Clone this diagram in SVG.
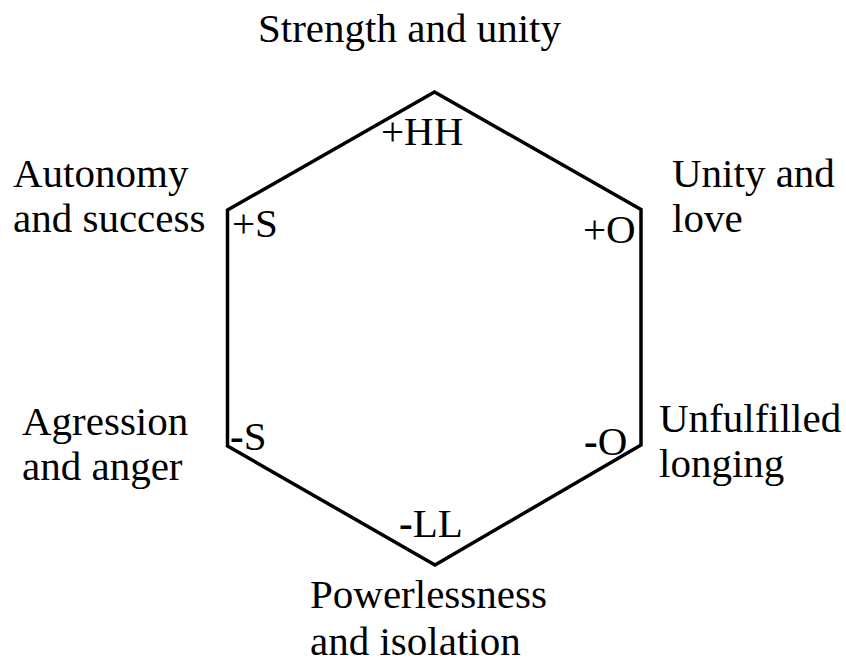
<svg xmlns="http://www.w3.org/2000/svg" width="846" height="665" viewBox="0 0 846 665">
<style>
text{font-family:"Liberation Serif","Times New Roman",serif;font-size:41px;fill:#000}
.b{font-weight:bold}
.hex{fill:none;stroke:#000;stroke-width:3.5;stroke-linejoin:miter}
</style>
<rect width="846" height="665" fill="#fff"/>
<g id="hexagon">
<polygon class="hex" points="434.5,92 641,209.5 641,445 435,565 227.5,446 227.5,210"/>
</g>
<g id="connectors"></g>
<g id="top">
<text x="258" y="42">Strength and unity</text>
<text x="381" y="145">+HH</text>
</g>
<g id="upper-left">
<text x="13" y="187">Autonomy</text>
<text x="13" y="232">and success</text>
<text x="232" y="237">+S</text>
</g>
<g id="upper-right">
<text x="672" y="187">Unity and</text>
<text x="672" y="232">love</text>
<text x="583" y="243">+O</text>
</g>
<g id="lower-left">
<text x="22" y="435">Agression</text>
<text x="22" y="480">and anger</text>
<text x="230" y="450"><tspan class="b">-</tspan>S</text>
</g>
<g id="lower-right">
<text x="659" y="432">Unfulfilled</text>
<text x="659" y="477">longing</text>
<text x="584" y="455"><tspan class="b">-</tspan>O</text>
</g>
<g id="bottom">
<text x="310" y="608">Powerlessness</text>
<text x="310" y="655">and isolation</text>
<text x="399" y="537"><tspan class="b">-</tspan>LL</text>
</g>
</svg>
